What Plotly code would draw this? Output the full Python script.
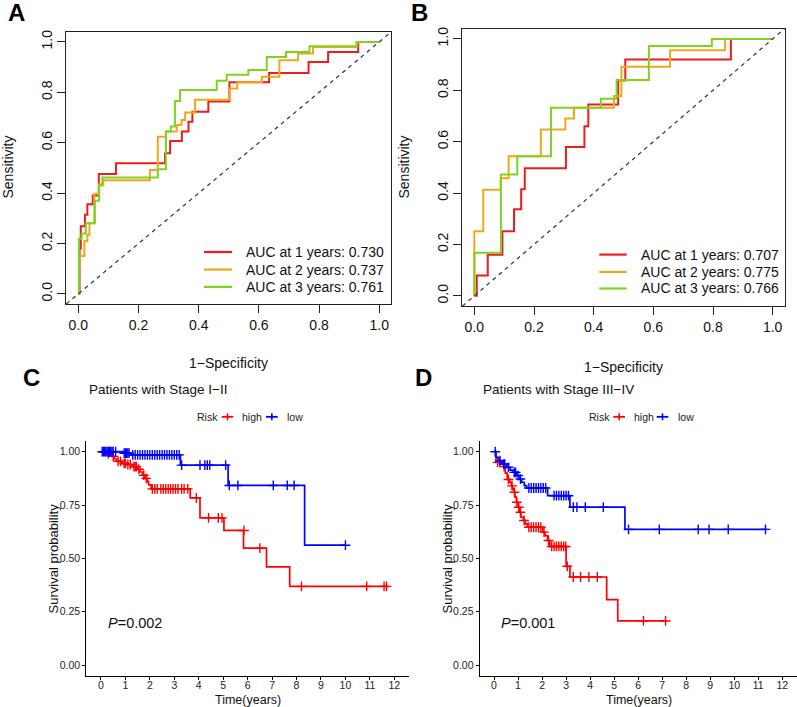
import plotly.graph_objects as go

W, H = 797, 707
FONT = "Liberation Sans, Arial, Helvetica, sans-serif"

RED, ORANGE, GREEN = "#EE1C1C", "#F0A81A", "#7ED321"
KM_RED, KM_BLUE = "#FF0000", "#0000FF"

# ---------------- ROC data (panel A) ----------------
a_fpr_1y = [0, 0.004, 0.008, 0.022, 0.03, 0.048, 0.068, 0.125, 0.288, 0.305, 0.344, 0.366, 0.379, 0.432, 0.502, 0.634, 0.765, 0.83, 0.93, 1.0]
a_sen_1y = [0, 0.18, 0.268, 0.314, 0.356, 0.39, 0.476, 0.518, 0.558, 0.607, 0.644, 0.683, 0.723, 0.763, 0.84, 0.877, 0.92, 0.96, 1.0, 1.0]
a_fpr_2y = [0, 0.002, 0.02, 0.03, 0.037, 0.053, 0.069, 0.083, 0.238, 0.264, 0.291, 0.327, 0.343, 0.355, 0.388, 0.502, 0.528, 0.61, 0.668, 0.73, 0.78, 0.925, 1.0]
a_sen_2y = [0, 0.15, 0.21, 0.235, 0.28, 0.396, 0.43, 0.451, 0.492, 0.624, 0.644, 0.67, 0.69, 0.72, 0.77, 0.815, 0.84, 0.862, 0.927, 0.954, 0.98, 1.0, 1.0]
a_fpr_3y = [0, 0.002, 0.011, 0.025, 0.055, 0.069, 0.08, 0.264, 0.291, 0.307, 0.321, 0.338, 0.46, 0.493, 0.565, 0.626, 0.69, 0.768, 0.925, 1.0]
a_sen_3y = [0, 0.219, 0.24, 0.28, 0.37, 0.435, 0.462, 0.495, 0.644, 0.664, 0.765, 0.809, 0.846, 0.87, 0.888, 0.94, 0.96, 0.983, 1.0, 1.0]
a_labels = ["AUC at 1 years: 0.730", "AUC at 2 years: 0.737", "AUC at 3 years: 0.761"]

# ---------------- ROC data (panel B) ----------------
b_fpr_1y = [0, 0.008, 0.045, 0.094, 0.133, 0.157, 0.169, 0.307, 0.369, 0.382, 0.482, 0.506, 0.86, 1.0]
b_sen_1y = [0, 0.079, 0.16, 0.251, 0.337, 0.415, 0.497, 0.579, 0.66, 0.745, 0.838, 0.92, 1.0, 1.0]
b_fpr_2y = [0, 0, 0.03, 0.088, 0.115, 0.223, 0.305, 0.334, 0.468, 0.493, 0.656, 0.84, 1.0]
b_sen_2y = [0, 0.251, 0.413, 0.458, 0.543, 0.647, 0.69, 0.732, 0.778, 0.892, 0.956, 1.0, 1.0]
b_fpr_3y = [0, 0, 0.089, 0.144, 0.257, 0.424, 0.477, 0.585, 0.796, 1.0]
b_sen_3y = [0, 0.168, 0.472, 0.543, 0.732, 0.767, 0.84, 0.972, 1.0, 1.0]
b_labels = ["AUC at 1 years: 0.707", "AUC at 2 years: 0.775", "AUC at 3 years: 0.766"]

roc_ticks = [0, 0.2, 0.4, 0.6, 0.8, 1.0]
roc_ticktext = ["0.0", "0.2", "0.4", "0.6", "0.8", "1.0"]

# ---------------- KM data (panel C, Stage I-II) ----------------
c_high_t = [0, 0.25, 0.45, 0.55, 0.65, 0.85, 1.05, 1.3, 1.5, 1.6, 1.7, 1.8, 1.9, 1.95, 2.05, 3.65, 4.05, 5.03, 5.83, 6.77, 7.72, 11.71]
c_high_s = [1.0, 0.99, 0.978, 0.966, 0.955, 0.945, 0.94, 0.93, 0.918, 0.905, 0.89, 0.875, 0.86, 0.845, 0.826, 0.784, 0.69, 0.631, 0.548, 0.46, 0.369, 0.369]
c_high_cens_t = [0.3, 0.5, 0.7, 0.8, 0.95, 1.0, 1.1, 1.2, 1.35, 1.4, 1.45, 1.55, 1.75, 1.85,
                 2.1, 2.2, 2.3, 2.45, 2.55, 2.65, 2.75, 2.85, 2.95, 3.05, 3.15, 3.3, 3.4, 3.55,
                 3.9, 4.4, 4.8, 4.95, 5.85, 6.5, 8.2, 10.87, 11.58, 11.68]
c_high_cens_s = [0.99, 0.978, 0.955, 0.955, 0.945, 0.945, 0.94, 0.94, 0.93, 0.93, 0.93, 0.918, 0.89, 0.875,
                 0.826, 0.826, 0.826, 0.826, 0.826, 0.826, 0.826, 0.826, 0.826, 0.826, 0.826, 0.826, 0.826, 0.826,
                 0.784, 0.69, 0.69, 0.69, 0.631, 0.548, 0.369, 0.369, 0.369, 0.369]
c_low_t = [0, 0.9, 1.2, 3.25, 5.2, 8.33, 10.0]
c_low_s = [1.0, 0.993, 0.985, 0.937, 0.842, 0.562, 0.562]
c_low_cens_t = [0.05, 0.1, 0.15, 0.2, 0.25, 0.3, 0.35, 0.4, 0.45, 0.5, 0.6,
                0.95, 1.0, 1.05, 1.1, 1.15,
                1.3, 1.4, 1.5, 1.6, 1.7, 1.8, 1.9, 2.0, 2.1, 2.2, 2.3, 2.4, 2.5, 2.6, 2.7, 2.8, 2.9, 3.0, 3.1, 3.2,
                3.3, 4.05, 4.25, 4.35, 4.45, 5.1,
                5.25, 5.6, 7.05, 7.62, 7.9, 10.0]
c_low_cens_s = [1.0] * 11 + [0.993] * 5 + [0.985] * 20 + [0.937] * 6 + [0.842] * 5 + [0.562]

# ---------------- KM data (panel D, Stage III-IV) ----------------
d_high_t = [0, 0.08, 0.4, 0.47, 0.55, 0.65, 0.72, 0.77, 0.83, 0.87, 0.93, 1.0, 1.07, 1.12, 1.22, 1.3, 1.39, 2.03, 2.12, 2.23, 2.32, 3.0, 3.16, 4.69, 5.15, 7.19]
d_high_s = [1.0, 0.95, 0.93, 0.9, 0.87, 0.857, 0.84, 0.826, 0.81, 0.787, 0.763, 0.74, 0.716, 0.693, 0.678, 0.662, 0.646, 0.623, 0.607, 0.584, 0.556, 0.463, 0.413, 0.307, 0.207, 0.207]
d_high_cens_t = [0.15, 0.25, 0.42, 0.6, 0.75, 0.85, 0.95, 1.03, 1.1, 1.25,
                 1.45, 1.55, 1.65, 1.75, 1.85, 1.95, 2.08, 2.27,
                 2.4, 2.5, 2.6, 2.7, 2.8, 2.9, 2.98, 3.05, 3.3, 3.6, 3.95, 4.3, 6.22, 7.14]
d_high_cens_s = [0.95, 0.95, 0.93, 0.87, 0.84, 0.81, 0.763, 0.74, 0.716, 0.678,
                 0.646, 0.646, 0.646, 0.646, 0.646, 0.646, 0.623, 0.584,
                 0.556, 0.556, 0.556, 0.556, 0.556, 0.556, 0.556, 0.463, 0.413, 0.413, 0.413, 0.413, 0.207, 0.207]
d_low_t = [0, 0.08, 0.18, 0.32, 0.53, 0.67, 0.8, 0.94, 1.08, 1.15, 1.26, 1.36, 2.23, 3.16, 5.45, 11.35]
d_low_s = [1.0, 0.974, 0.958, 0.942, 0.927, 0.914, 0.903, 0.888, 0.872, 0.857, 0.841, 0.83, 0.794, 0.74, 0.636, 0.636]
d_low_cens_t = [0.05, 0.25, 0.4, 0.45, 0.6, 0.85, 0.9, 1.0, 1.1,
                1.45, 1.55, 1.65, 1.75, 1.85, 1.95, 2.05, 2.15,
                2.5, 2.6, 2.7, 2.8, 2.9, 3.0, 3.1,
                3.3, 3.45, 3.8, 4.55,
                5.6, 6.88, 8.5, 8.95, 9.75, 11.3]
d_low_cens_s = [1.0, 0.958, 0.942, 0.942, 0.927, 0.903, 0.903, 0.888, 0.872] + [0.83] * 8 + [0.794] * 7 + [0.74] * 4 + [0.636] * 6

km_xticks = list(range(0, 13))
km_yticks = [0, 0.25, 0.5, 0.75, 1.0]
km_yticktext = ["0.00", "0.25", "0.50", "0.75", "1.00"]
risk_names = ["high", "low"]


def dx(a, b):
    return [a / W, b / W]


def dy(top, bottom):
    return [1 - bottom / H, 1 - top / H]


fig = go.Figure()

# ROC curves
for fpr, sen, col, name in zip([a_fpr_1y, a_fpr_2y, a_fpr_3y], [a_sen_1y, a_sen_2y, a_sen_3y],
                               [RED, ORANGE, GREEN], a_labels):
    fig.add_trace(go.Scatter(x=fpr, y=sen, mode="lines", line=dict(color=col, width=2, shape="hv"),
                             name=name, xaxis="x", yaxis="y", showlegend=False))
for fpr, sen, col, name in zip([b_fpr_1y, b_fpr_2y, b_fpr_3y], [b_sen_1y, b_sen_2y, b_sen_3y],
                               [RED, ORANGE, GREEN], b_labels):
    fig.add_trace(go.Scatter(x=fpr, y=sen, mode="lines", line=dict(color=col, width=2, shape="hv"),
                             name=name, xaxis="x2", yaxis="y2", showlegend=False))

# KM curves
km_sets = [
    ("x3", "y3", [(c_high_t, c_high_s, c_high_cens_t, c_high_cens_s, KM_RED),
                  (c_low_t, c_low_s, c_low_cens_t, c_low_cens_s, KM_BLUE)]),
    ("x4", "y4", [(d_high_t, d_high_s, d_high_cens_t, d_high_cens_s, KM_RED),
                  (d_low_t, d_low_s, d_low_cens_t, d_low_cens_s, KM_BLUE)]),
]
for xa, ya, groups in km_sets:
    for (t, s, ct, cs, col), nm in zip(groups, risk_names):
        fig.add_trace(go.Scatter(x=t, y=s, mode="lines", line=dict(color=col, width=1.7, shape="hv"),
                                 name=nm, showlegend=False, xaxis=xa, yaxis=ya, hoverinfo="skip"))
        fig.add_trace(go.Scatter(x=ct, y=cs, mode="markers", name=nm + " (censored)",
                                 marker=dict(symbol="cross-thin", size=7, color=col,
                                             line=dict(width=1.4, color=col)),
                                 showlegend=False, xaxis=xa, yaxis=ya))

roc_axis = dict(range=[-0.04, 1.04], tickvals=roc_ticks, ticktext=roc_ticktext, showline=True, mirror=True,
                linecolor="#222", linewidth=1, ticks="outside", ticklen=8, tickwidth=1, tickcolor="#222",
                tickfont=dict(size=14, color="#111", family=FONT), showgrid=False, zeroline=False)
km_x = dict(range=[-0.6, 12.6], tickvals=km_xticks, showline=True, mirror=False, linecolor="#000", linewidth=1,
            ticks="outside", ticklen=3, tickwidth=1, tickcolor="#000", ticklabelstandoff=-3,
            tickfont=dict(size=10.5, color="#222", family=FONT), showgrid=False, zeroline=False)
km_y = dict(range=[-0.05, 1.05], tickvals=km_yticks, ticktext=km_yticktext, showline=True, mirror=False,
            linecolor="#000", linewidth=1, ticks="outside", ticklen=3, tickwidth=1, tickcolor="#000",
            tickfont=dict(size=10.5, color="#222", family=FONT), showgrid=False, zeroline=False)

fig.update_layout(
    width=W, height=H, margin=dict(l=0, r=0, t=0, b=0),
    paper_bgcolor="white", plot_bgcolor="white",
    font=dict(family=FONT, color="#111"),
    showlegend=False,
    xaxis=dict(roc_axis, domain=dx(66.3, 391.3), anchor="y"),
    yaxis=dict(roc_axis, domain=dy(29.9, 302.8), anchor="x", tickangle=-90),
    xaxis2=dict(roc_axis, domain=dx(462.4, 784.6), anchor="y2"),
    yaxis2=dict(roc_axis, domain=dy(26.7, 305.0), anchor="x2", tickangle=-90),
    xaxis3=dict(km_x, domain=dx(86.3, 409), anchor="y3"),
    yaxis3=dict(km_y, domain=dy(440.3, 675.7), anchor="x3"),
    xaxis4=dict(km_x, domain=dx(479.6, 796.7), anchor="y4"),
    yaxis4=dict(km_y, domain=dy(440.3, 675.7), anchor="x4"),
)

# reference diagonals (corner to corner of each ROC box)
for xr, yr in [("x domain", "y domain"), ("x2 domain", "y2 domain")]:
    fig.add_shape(type="line", xref=xr, yref=yr, x0=0, y0=0, x1=1, y1=1,
                  line=dict(color="#333", width=1.2, dash="4px,4px"))


def ann(text, x, y, size, xanchor="center", angle=0, bold=False, color="#111"):
    if bold:
        text = "<b>" + text + "</b>"
    fig.add_annotation(text=text, x=x / W, y=1 - y / H, xref="paper", yref="paper", showarrow=False,
                       xanchor=xanchor, yanchor="middle", textangle=angle,
                       font=dict(size=size, color=color, family=FONT))


def key_line(x0, x1, y, col, width):
    fig.add_shape(type="line", xref="paper", yref="paper", x0=x0 / W, x1=x1 / W, y0=1 - y / H, y1=1 - y / H,
                  line=dict(color=col, width=width))


# ROC legends (legend keys + labels)
for (kx0, kx1, tx, rows, labels) in [(204, 232, 244, [250.7, 268.3, 285.7], a_labels),
                                     (599.3, 626.7, 639.3, [253.3, 270.7, 287.3], b_labels)]:
    for ry, col, lab in zip(rows, [RED, ORANGE, GREEN], labels):
        key_line(kx0, kx1, ry, col, 2.2)
        ann(lab, tx, ry, 14, xanchor="left")

# KM legends ("Risk"  +high  +low)
for (rx, keys) in [(195, [(221.7, 233.3, 240), (266, 277.7, 285)]),
                   (586.7, [(613.3, 625, 631.5), (656.7, 668.3, 675.5)])]:
    ly = 416
    ann("Risk", rx, ly, 10.5, xanchor="left", color="#222")
    for (kx0, kx1, tx), col, nm in zip(keys, [KM_RED, KM_BLUE], risk_names):
        key_line(kx0, kx1, ly, col, 1.8)
        cx = (kx0 + kx1) / 2
        fig.add_shape(type="line", xref="paper", yref="paper", x0=cx / W, x1=cx / W,
                      y0=1 - (ly - 3.5) / H, y1=1 - (ly + 3.5) / H, line=dict(color=col, width=1.6))
        ann(nm, tx, ly, 10.5, xanchor="left", color="#222")

ann("A", 6, 11, 24, xanchor="left", bold=True, color="#000")
ann("B", 409, 11, 24, xanchor="left", bold=True, color="#000")
ann("C", 21, 377, 24, xanchor="left", bold=True, color="#000")
ann("D", 413, 377, 24, xanchor="left", bold=True, color="#000")

ann("Sensitivity", 8, 166, 14, angle=-90)
ann("Sensitivity", 404, 166, 14, angle=-90)
ann("1\u2212Specificity", 229, 362, 14)
ann("1\u2212Specificity", 623.5, 366, 14)

ann("Patients with Stage I\u2212II", 87, 389, 13.5, xanchor="left")
ann("Patients with Stage III\u2212IV", 480.5, 389, 13.5, xanchor="left")
ann("Survival probability", 53, 558, 13, angle=-90, color="#111")
ann("Survival probability", 447, 558, 13, angle=-90, color="#111")
ann("Time(years)", 247.7, 699.5, 12.5)
ann("Time(years)", 638.6, 699.5, 12.5)
ann("<i>P</i>=0.002", 106, 623, 14.5, xanchor="left")
ann("<i>P</i>=0.001", 499, 623, 14.5, xanchor="left")

fig.write_html("out.html", config={"displayModeBar": False},
               post_script="document.body.style.margin='0';document.body.style.padding='0';")
